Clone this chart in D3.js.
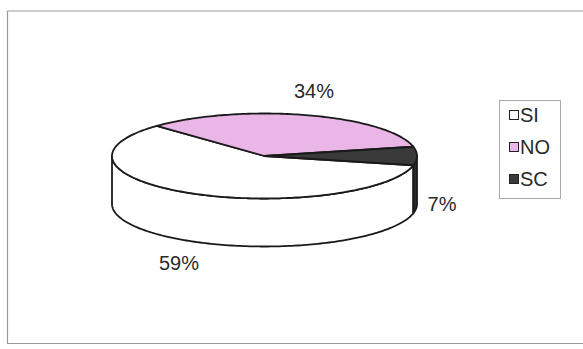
<!DOCTYPE html>
<html>
<head>
<meta charset="utf-8">
<script src="https://cdn.jsdelivr.net/npm/d3@7"></script>
<style>
  html, body { margin: 0; padding: 0; background: #fff; }
  svg { display: block; }
  text { font-family: "Liberation Sans", Arial, sans-serif; fill: #2a2a2a; }
</style>
</head>
<body>
<svg id="chart" width="583" height="349"></svg>
<script>
// ---- data ----
const categories = ["SI", "NO", "SC"];
const values = [59, 34, 7];
const labels = ["59%", "34%", "7%"];
const colors = ["#ffffff", "#eab6e8", "#3a3a3a"];
const sideColors = ["#ffffff", "#d9a0d6", "#2a2a2a"];

const W = 583, H = 349;
const svg = d3.select("#chart");

// frame
svg.append("path")
  .attr("d", "M583,11 L7.5,11 L7.5,343.5 L583,343.5")
  .attr("fill", "none").attr("stroke", "#9a9a9a").attr("stroke-width", 1.2);

// pie geometry
const cx = 264.5, cy = 156, rx = 152.5, ry = 42.5, depth = 48;
const startDeg = 12.6;                     // parametric angle where first slice starts
const pie = d3.pie().sort(null).value(d => d)
  .startAngle((startDeg + 90) * Math.PI / 180)
  .endAngle((startDeg + 90 + 360) * Math.PI / 180);
const arcs = pie(values);

const theta = a => a - Math.PI / 2;        // d3 angle -> parametric angle
const px = t => cx + rx * Math.cos(t);
const py = t => cy + ry * Math.sin(t);

function ellArc(t0, t1, dy, steps) {
  const pts = [];
  const n = steps || Math.max(4, Math.ceil(Math.abs(t1 - t0) / 0.02));
  for (let i = 0; i <= n; i++) {
    const t = t0 + (t1 - t0) * i / n;
    pts.push([px(t), py(t) + dy]);
  }
  return pts;
}
const line = d3.line();

const g = svg.append("g");

// side walls (front half only)
arcs.forEach((a, i) => {
  let t0 = theta(a.startAngle), t1 = theta(a.endAngle);
  [[0, Math.PI], [2 * Math.PI, 3 * Math.PI], [-2 * Math.PI, -Math.PI]].forEach(([lo, hi]) => {
    const s = Math.max(t0, lo), e = Math.min(t1, hi);
    if (e > s) {
      const top = ellArc(s, e, 0);
      const bot = ellArc(e, s, depth);
      g.append("path")
        .attr("d", line(top.concat(bot)) + "Z")
        .attr("fill", sideColors[i])
        .attr("stroke", "#1a1a1a").attr("stroke-width", 1.8)
        .attr("stroke-linejoin", "round");
    }
  });
});

// top faces
arcs.forEach((a, i) => {
  const t0 = theta(a.startAngle), t1 = theta(a.endAngle);
  const pts = [[cx, cy]].concat(ellArc(t0, t1, 0));
  g.append("path")
    .attr("d", line(pts) + "Z")
    .attr("fill", colors[i])
    .attr("stroke", "#1a1a1a").attr("stroke-width", 1.8)
    .attr("stroke-linejoin", "round");
});

// labels
arcs.forEach((a, i) => {
  const t = theta((a.startAngle + a.endAngle) / 2);
  const s = Math.sin(t);
  const x = cx + (rx + 25) * Math.cos(t);
  const y = cy + (ry + 25) * s + (s > -0.05 ? depth : 0);
  svg.append("text")
    .attr("x", x).attr("y", y)
    .attr("text-anchor", "middle")
    .attr("dominant-baseline", "central")
    .attr("font-size", 20)
    .text(labels[i]);
});

// legend
const lg = svg.append("g");
lg.append("rect")
  .attr("x", 499.5).attr("y", 100.5).attr("width", 61).attr("height", 98)
  .attr("fill", "#fff").attr("stroke", "#aaa").attr("stroke-width", 1);
const ly = d3.scalePoint().domain(categories).range([115, 179]);
categories.forEach((c, i) => {
  lg.append("rect")
    .attr("x", 509.5).attr("y", ly(c) - 4.5).attr("width", 9).attr("height", 9)
    .attr("fill", colors[i]).attr("stroke", "#222").attr("stroke-width", 1);
  lg.append("text")
    .attr("x", 520).attr("y", ly(c))
    .attr("dominant-baseline", "central")
    .attr("font-size", 20)
    .text(c);
});
</script>
</body>
</html>
